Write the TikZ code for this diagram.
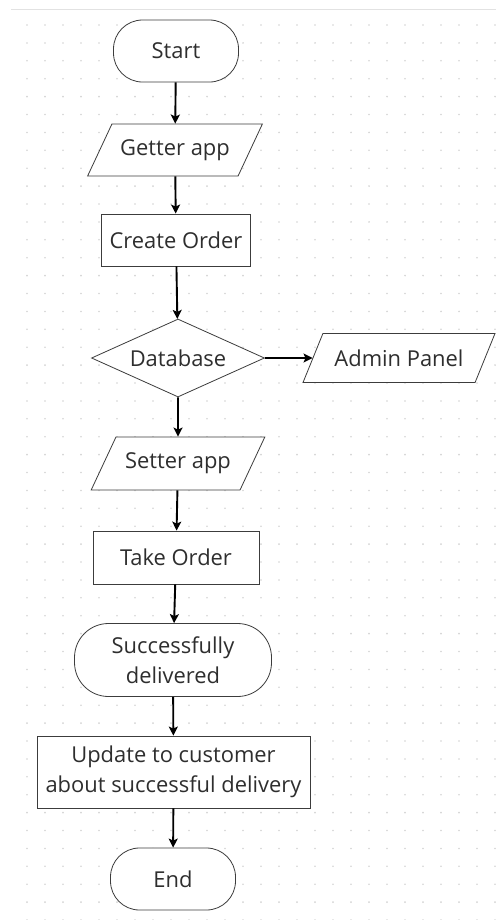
\documentclass[tikz,border=0pt]{standalone}
\usepackage{fontspec}
\setmainfont{Open Sans}
\usetikzlibrary{shapes.geometric,arrows.meta}

\definecolor{txtgrey}{HTML}{2E2E2E}
\definecolor{edgegrey}{HTML}{3C3C3C}
\definecolor{dotgrey}{HTML}{D4D4D4}
\definecolor{rulegrey}{HTML}{E2E2E2}

\begin{document}
\begin{tikzpicture}[x=1bp,y=-1bp,
  every node/.style={font=\fontsize{22}{30}\selectfont, text=txtgrey, inner sep=0pt, align=center},
  shapeline/.style={draw=edgegrey, line width=0.8bp},
  term/.style={shapeline, rectangle, rounded corners=29bp},
  procbox/.style={shapeline, rectangle},
  iobox/.style={shapeline, trapezium, trapezium left angle=45, trapezium right angle=135, trapezium stretches=true},
  decide/.style={shapeline, diamond, aspect=2.2},
  flow/.style={black, line width=1.9bp, -{Stealth[length=9bp,width=9bp,inset=2bp]}}]
\useasboundingbox (0,0) rectangle (496,920);
\fill[white] (0,0) rectangle (496,920);
% dotted canvas
\draw[rulegrey, line width=1bp] (11,9) -- (496,9);
\foreach \i in {0,...,26}
  \foreach \j in {0,...,50}
    \fill[dotgrey] (27+18*\i,25+17.9*\j) circle (0.9);
% shapes
\node[term, minimum width=125bp, minimum height=62bp, fill=white] (start) at (176,51) {Start};
\node[iobox, minimum width=175bp, minimum height=52bp, fill=white] (getter) at (175,150) {Getter app};
\node[procbox, minimum width=149bp, minimum height=52bp, fill=white] (create) at (176,240) {Create Order};
\node[decide, minimum width=173bp, minimum height=78bp, fill=white] (db) at (178,358) {Database};
\node[iobox, minimum width=192bp, minimum height=49bp, fill=white] (admin) at (399,358) {Admin Panel};
\node[iobox, minimum width=174bp, minimum height=53bp, fill=white] (setter) at (178,463.5) {Setter app};
\node[procbox, minimum width=166bp, minimum height=53bp, fill=white] (take) at (176,557.5) {Take Order};
\node[term, rounded corners=34bp, minimum width=197bp, minimum height=73bp, fill=white] (success) at (173,660) {Successfully\\delivered};
\node[procbox, minimum width=273bp, minimum height=72bp, fill=white] (update) at (173.5,772) {Update to customer\\about successful delivery};
\node[term, minimum width=125bp, minimum height=62bp, fill=white] (end) at (173,879) {End};
% arrows
\draw[flow] (start) -- (getter);
\draw[flow] (getter) -- (create);
\draw[flow] (create) -- (db);
\draw[flow] (db) -- (admin);
\draw[flow] (db) -- (setter);
\draw[flow] (setter) -- (take);
\draw[flow] (take) -- (success);
\draw[flow] (success) -- (update);
\draw[flow] (update) -- (end);
\end{tikzpicture}
\end{document}
